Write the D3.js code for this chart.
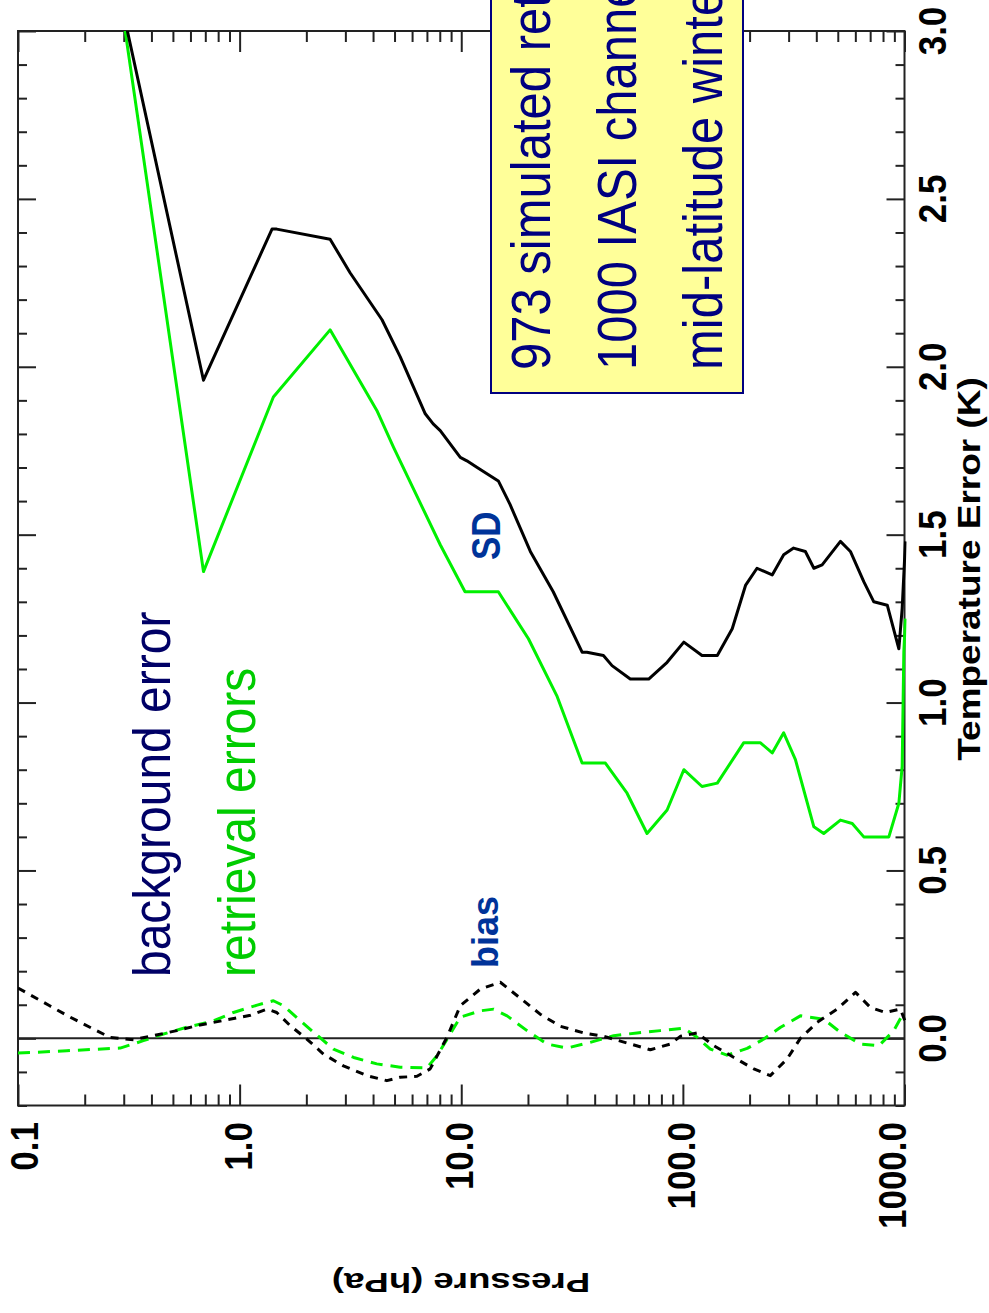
<!DOCTYPE html>
<html>
<head>
<meta charset="utf-8">
<script src="https://cdn.jsdelivr.net/npm/d3@7"></script>
<style>
body { margin: 0; background: #fff; }
svg { display: block; }
</style>
</head>
<body>
<svg id="myGraph" width="989" height="1313"></svg>
<script>
// ---- data (pressure in hPa, temperature error in K) ----
var pressureTicks = [0.1, 1, 10, 100, 1000];
var pressureLabels = ["0.1", "1.0", "10.0", "100.0", "1000.0"];
var tempTicks = [0, 0.5, 1.0, 1.5, 2.0, 2.5, 3.0];

// background error SD (black solid)
var bgSdP = [0.3, 0.687, 1.40, 1.47, 2.56, 3.15, 4.39, 5.30, 6.88, 7.47, 8.04, 9.90, 10.6, 11.8, 14.7, 16.6, 20.5, 26.0, 35.1, 36.9,
	43.8, 47.9, 57.9, 70.1, 84.9, 101, 122, 143, 167, 192, 216, 253, 285, 316, 357, 390, 425, 514, 570, 655, 727, 836, 943, 976, 1010];
var bgSdT = [3.05, 1.96, 2.41, 2.41, 2.38, 2.28, 2.14, 2.03, 1.86, 1.83, 1.81, 1.73, 1.72, 1.70, 1.66, 1.59, 1.45, 1.33, 1.15, 1.15,
	1.14, 1.11, 1.07, 1.07, 1.12, 1.18, 1.14, 1.14, 1.22, 1.35, 1.40, 1.38, 1.44, 1.46, 1.45, 1.40, 1.41, 1.48, 1.45, 1.36, 1.30, 1.29, 1.16, 1.28, 1.48];

// retrieval error SD (green solid)
var retSdP = [0.3, 0.687, 1.42, 2.56, 4.16, 4.95, 8.04, 10.4, 14.7, 20.1, 27.0, 35.1, 44.7, 56.0, 68.9, 84.9, 101, 122, 143, 188,
	224, 253, 285, 322, 390, 432, 514, 581, 655, 850, 943, 976, 993, 1010];
var retSdT = [3.03, 1.39, 1.91, 2.11, 1.87, 1.76, 1.47, 1.33, 1.33, 1.19, 1.02, 0.82, 0.82, 0.73, 0.61, 0.68, 0.80, 0.75, 0.76, 0.88,
	0.88, 0.85, 0.91, 0.83, 0.63, 0.61, 0.65, 0.64, 0.60, 0.60, 0.70, 0.81, 1.15, 1.25];

// background bias (black dashed)
var bgBiasP = [0.1, 0.139, 0.172, 0.211, 0.260, 0.332, 0.394, 0.521, 0.663, 0.876, 1.12, 1.33, 1.47, 1.69, 2.01, 2.39, 2.94, 3.75, 4.62, 5.30,
	6.31, 7.24, 8.62, 9.90, 12.2, 15.0, 19.1, 22.7, 28.0, 35.7, 43.9, 56.0, 71.3, 87.8, 97.4, 116, 138, 170, 209, 248,
	295, 339, 404, 497, 601, 702, 821, 959, 1010];
var bgBiasT = [0.15, 0.097, 0.063, 0.033, 0.003, -0.004, 0.006, 0.023, 0.040, 0.055, 0.069, 0.087, 0.077, 0.038, -0.002, -0.047, -0.082, -0.111, -0.126, -0.116,
	-0.113, -0.091, 0.003, 0.097, 0.147, 0.167, 0.112, 0.072, 0.036, 0.016, 0.006, -0.014, -0.034, -0.017, 0.006, 0.016, -0.022, -0.057, -0.091, -0.111,
	-0.062, 0.000, 0.048, 0.087, 0.137, 0.092, 0.077, 0.087, 0.048];

// retrieval bias (green dashed)
var retBiasP = [0.1, 0.166, 0.289, 0.368, 0.438, 0.578, 0.762, 0.938, 1.20, 1.42, 1.58, 1.88, 2.23, 2.65, 3.27, 4.16, 5.30, 7.00, 7.77, 8.92,
	9.90, 12.2, 14.0, 16.1, 19.8, 24.4, 30.0, 38.2, 48.7, 62.1, 79.1, 101, 116, 133, 158, 195, 232, 276, 339, 432,
	514, 633, 766, 895, 993];
var retBiasT = [-0.044, -0.037, -0.029, -0.007, 0.010, 0.033, 0.052, 0.077, 0.099, 0.112, 0.097, 0.052, 0.010, -0.032, -0.057, -0.076, -0.086, -0.088, -0.052, 0.013,
	0.063, 0.082, 0.087, 0.067, 0.023, -0.017, -0.029, -0.012, 0.008, 0.016, 0.023, 0.030, 0.003, -0.032, -0.050, -0.030, -0.002, 0.033, 0.067, 0.057,
	0.018, -0.017, -0.022, 0.023, 0.077];

var legendLines = ["973 simulated retrievals", "1000 IASI channels", "mid-latitude winter"];

window.addEventListener("load", function(){
	var svg = d3.select("#myGraph");
	var font = "'Liberation Sans', Arial, Helvetica, sans-serif";

	// the plot is drawn turned 90 degrees: pressure runs left->right, temperature bottom->top
	var x = d3.scaleLog().domain([0.1, 1000]).range([18, 904.5]);
	var y = d3.scaleLinear().domain([-0.2, 3.0]).range([1105.5, 31]);

	var minorP = [];
	for (var i = 0; i < pressureTicks.length - 1; i++) {
		for (var k = 2; k < 10; k++) minorP.push(pressureTicks[i] * k);
	}
	var minorT = d3.range(-2, 31).filter(function(d){ return d % 5 != 0; }).map(function(d){ return d / 10; });

	function drawAxis(axis, tx, ty) {
		svg.append("g")
			.attr("transform", "translate(" + tx + "," + ty + ")")
			.call(axis)
			.call(function(g){ g.select(".domain").remove(); })
			.selectAll("line")
			.attr("stroke", "#222")
			.attr("stroke-width", 2);
	}
	// ticks point inward on all four sides
	drawAxis(d3.axisBottom(x).tickValues(pressureTicks).tickSize(-21).tickFormat(""), 0, 1105.5);
	drawAxis(d3.axisBottom(x).tickValues(minorP).tickSize(-11).tickFormat(""), 0, 1105.5);
	drawAxis(d3.axisTop(x).tickValues(pressureTicks).tickSize(-21).tickFormat(""), 0, 31);
	drawAxis(d3.axisTop(x).tickValues(minorP).tickSize(-11).tickFormat(""), 0, 31);
	drawAxis(d3.axisRight(y).tickValues(tempTicks).tickSize(-18).tickFormat(""), 904.5, 0);
	drawAxis(d3.axisRight(y).tickValues(minorT).tickSize(-9).tickFormat(""), 904.5, 0);
	drawAxis(d3.axisLeft(y).tickValues(tempTicks).tickSize(-18).tickFormat(""), 18, 0);
	drawAxis(d3.axisLeft(y).tickValues(minorT).tickSize(-9).tickFormat(""), 18, 0);

	// frame
	svg.append("rect")
		.attr("x", x(0.1)).attr("y", y(3.0))
		.attr("width", x(1000) - x(0.1)).attr("height", y(-0.2) - y(3.0))
		.attr("fill", "none").attr("stroke", "#222").attr("stroke-width", 2);

	// zero line
	svg.append("line")
		.attr("x1", x(0.1)).attr("x2", x(1000))
		.attr("y1", y(0)).attr("y2", y(0))
		.attr("stroke", "#222").attr("stroke-width", 2);

	svg.append("clipPath").attr("id", "plotClip")
		.append("rect")
		.attr("x", x(0.1)).attr("y", y(3.0))
		.attr("width", x(1000) - x(0.1) + 2).attr("height", y(-0.2) - y(3.0));

	var line = d3.line()
		.x(function(d){ return x(d[0]); })
		.y(function(d){ return y(d[1]); });

	function pairs(P, T) {
		return P.map(function(p, i){ return [p, T[i]]; });
	}

	var curves = [
		{ data: pairs(retBiasP, retBiasT), color: "#00f000", dash: "12,8" },
		{ data: pairs(bgBiasP, bgBiasT), color: "#000", dash: "8,7" },
		{ data: pairs(retSdP, retSdT), color: "#00f000", dash: null },
		{ data: pairs(bgSdP, bgSdT), color: "#000", dash: null }
	];

	svg.append("g").attr("clip-path", "url(#plotClip)")
		.selectAll("path")
		.data(curves)
		.enter()
		.append("path")
		.attr("d", function(d){ return line(d.data); })
		.attr("fill", "none")
		.attr("stroke", function(d){ return d.color; })
		.attr("stroke-width", 3)
		.attr("stroke-linejoin", "round")
		.attr("stroke-dasharray", function(d){ return d.dash; });

	// rotated text helper (reads bottom to top)
	function vtext(bx, by, str, size, weight, color, anchor, k) {
		return svg.append("text")
			.attr("transform", "translate(" + bx + "," + by + ") rotate(-90) scale(1," + k + ")")
			.attr("font-family", font)
			.attr("font-size", size)
			.attr("font-weight", weight)
			.attr("fill", color)
			.attr("text-anchor", anchor)
			.text(str);
	}

	// pressure tick labels
	pressureTicks.forEach(function(v, i){
		var c = Math.min(Math.max(x(v) - 2, 24), 892);
		vtext(c + 14, 1122, pressureLabels[i], 35, "bold", "#000", "end", 1.12);
	});
	// temperature tick labels
	tempTicks.forEach(function(v){
		vtext(946, y(v), d3.format(".1f")(v), 35, "bold", "#000", "middle", 1.12);
	});

	// axis titles
	vtext(980, 569, "Temperature Error (K)", 37, "bold", "#000", "middle", 0.87);
	svg.append("text")
		.attr("transform", "translate(461,1273) rotate(180) scale(1,0.76)")
		.attr("font-family", font)
		.attr("font-size", 36.6)
		.attr("font-weight", "bold")
		.attr("text-anchor", "middle")
		.text("Pressure (hPa)");

	// annotations
	vtext(170, 977, "background error", 48, "normal", "#000066", "start", 1.07);
	vtext(255, 977, "retrieval errors", 48, "normal", "#00cc00", "start", 1.07);
	vtext(500, 560, "SD", 35, "bold", "#003399", "start", 1.15);
	vtext(498, 968, "bias", 36, "bold", "#003399", "start", 1.05);

	// legend box (runs off the top of the page)
	svg.append("rect")
		.attr("x", 491).attr("y", -20)
		.attr("width", 252).attr("height", 413)
		.attr("fill", "#ffff99")
		.attr("stroke", "#000080")
		.attr("stroke-width", 2);
	legendLines.forEach(function(t, i){
		vtext(550 + i * 86, 370, t, 49, "normal", "#000080", "start", 1.12);
	});
});
</script>
</body>
</html>
